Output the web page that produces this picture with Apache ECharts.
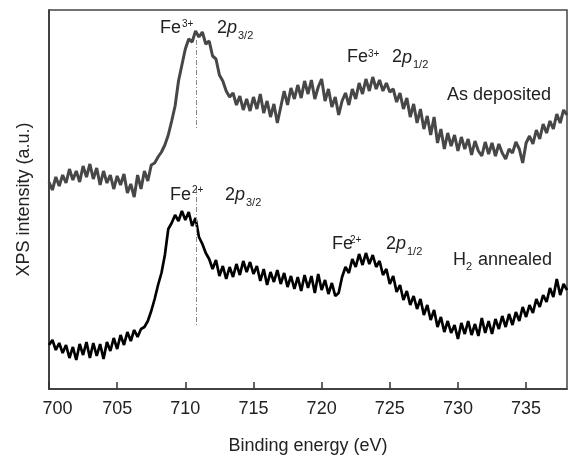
<!DOCTYPE html>
<html>
<head>
<meta charset="utf-8">
<script src="https://cdn.jsdelivr.net/npm/echarts@6/dist/echarts.min.js"></script>
<style>html,body{margin:0;padding:0;background:#fff;}#c{width:568px;height:457px;}</style>
</head>
<body>
<div id="c"></div>
<script>
// Binding energy grid (eV)
var energies = [
700,700.25,700.5,700.75, 701,701.25,701.5,701.75, 702,702.25,702.5,702.75, 703,703.25,703.5,703.75,
704,704.25,704.5,704.75, 705,705.25,705.5,705.75, 706,706.25,706.5,706.75, 707,707.25,707.5,707.75,
708,708.25,708.5,708.75, 709,709.25,709.5,709.75, 710,710.25,710.5,710.75, 711,711.25,711.5,711.75,
712,712.25,712.5,712.75, 713,713.25,713.5,713.75, 714,714.25,714.5,714.75, 715,715.25,715.5,715.75,
716,716.25,716.5,716.75, 717,717.25,717.5,717.75, 718,718.25,718.5,718.75, 719,719.25,719.5,719.75,
720,720.25,720.5,720.75, 721,721.25,721.5,721.75, 722,722.25,722.5,722.75, 723,723.25,723.5,723.75,
724,724.25,724.5,724.75, 725,725.25,725.5,725.75, 726,726.25,726.5,726.75, 727,727.25,727.5,727.75,
728,728.25,728.5,728.75, 729,729.25,729.5,729.75, 730,730.25,730.5,730.75, 731,731.25,731.5,731.75,
732,732.25,732.5,732.75, 733,733.25,733.5,733.75, 734,734.25,734.5,734.75, 735,735.25,735.5,735.75,
736,736.25,736.5,736.75, 737,737.25,737.5,737.75, 738
];
// "As deposited" intensity (a.u., offset)
var asDeposited = [
207,199,212,203, 214,206,220,209, 218,207,223,212, 225,210,221,204,
218,206,214,200, 213,204,215,196, 205,192,214,200, 218,208,224,226,
232,237,244,254, 268,283,308,324, 340,350,347,358, 352,357,345,348,
333,330,314,308, 298,292,296,284, 293,279,290,278, 292,280,295,276,
288,272,285,266, 282,298,284,301, 290,304,291,308, 295,309,290,302,
310,288,300,282, 292,274,288,296, 284,300,290,306, 295,310,298,312,
300,309,298,306, 297,300,287,296, 280,291,272,285, 266,280,260,273,
254,272,246,260, 240,256,243,254, 238,252,240,250, 234,248,238,233,
247,235,246,233, 245,236,230,240, 236,247,240,226, 246,253,245,259,
250,265,256,268, 260,275,266,279, 274
];
// "H2 annealed" intensity (a.u., offset)
var h2Annealed = [
44,49,39,46, 36,44,31,42, 29,45,34,47, 31,46,33,45,
30,47,38,51, 40,54,44,57, 48,59,52,60, 62,68,78,90,
104,116,134,160, 166,174,168,178, 169,177,163,171, 152,145,136,130,
120,129,113,123, 110,122,112,125, 114,128,117,127, 115,123,108,120,
104,117,107,119, 105,116,102,113, 100,112,98,114, 101,113,96,115,
99,109,95,106, 93,96,112,122, 116,130,122,135, 124,136,125,134,
122,128,114,120, 105,113,97,104, 89,98,84,93, 80,90,74,84,
69,79,62,72, 57,68,56,64, 50,66,55,68, 54,65,53,71,
56,68,55,70, 60,73,62,75, 64,77,68,82, 72,84,76,90,
82,94,87,101, 92,110,94,105, 99
];
// Peak reference line (Fe 2p3/2) and its extents
var peakEnergy = 710.83;
var upperLineRange = [349, 261];
var lowerLineRange = [202, 62];

var FONT = "'Liberation Sans', Arial, sans-serif";
var TXT = '#222';

function pairs(xs, ys) { var out = []; for (var i = 0; i < xs.length; i++) out.push([xs[i], ys[i]]); return out; }

function t(x, y, text, size, italic) {
  return { type: 'text', x: x, y: y, z: 100, silent: true,
    style: { text: text, fontSize: size, fontFamily: FONT, fontStyle: italic ? 'italic' : 'normal',
             fill: TXT, verticalAlign: 'middle', textVerticalAlign: 'middle', align: 'left' } };
}

var chart = echarts.init(document.getElementById('c'));
chart.setOption({
  animation: false,
  backgroundColor: '#fff',
  grid: { left: 49, right: 1, top: 10, bottom: 68, containLabel: false, outerBoundsMode: 'none',
          show: true, borderColor: '#444', borderWidth: 1.5, backgroundColor: 'transparent' },
  xAxis: {
    type: 'value', min: 700, max: 738, interval: 5,
    name: 'Binding energy (eV)', nameLocation: 'middle', nameGap: 48,
    nameTextStyle: { fontSize: 18, fontFamily: FONT, color: TXT },
    axisLine: { show: true, lineStyle: { color: '#333', width: 1.5 } },
    axisTick: { show: true, inside: true, length: 7, lineStyle: { color: '#333', width: 1.5 } },
    axisLabel: { fontSize: 18, fontFamily: FONT, color: TXT, margin: 11, showMaxLabel: false,
      formatter: function (v) { return v === 700 ? '{m|700}' : String(v); },
      rich: { m: { fontSize: 18, fontFamily: FONT, color: TXT, padding: [0, 0, 0, 17] } } },
    splitLine: { show: false }
  },
  yAxis: {
    type: 'value', min: 0, max: 379,
    name: 'XPS intensity (a.u.)', nameLocation: 'middle', nameGap: 16,
    nameTextStyle: { fontSize: 18, fontFamily: FONT, color: TXT },
    axisLine: { show: true, lineStyle: { color: '#333', width: 1.5 } },
    axisTick: { show: false }, axisLabel: { show: false }, splitLine: { show: false }
  },
  series: [
    { type: 'line', name: 'As deposited', data: pairs(energies, asDeposited), showSymbol: false,
      lineStyle: { color: '#474747', width: 3 }, itemStyle: { color: '#474747' }, z: 3,
      markLine: { silent: true, symbol: ['none', 'none'], label: { show: false },
        lineStyle: { color: '#888', width: 1, type: [5, 2, 1, 2] },
        data: [[{ coord: [peakEnergy, upperLineRange[0]] }, { coord: [peakEnergy, upperLineRange[1]] }]] } },
    { type: 'line', name: 'H2 annealed', data: pairs(energies, h2Annealed), showSymbol: false,
      lineStyle: { color: '#000', width: 2.7 }, itemStyle: { color: '#000' }, z: 3,
      markLine: { silent: true, symbol: ['none', 'none'], label: { show: false },
        lineStyle: { color: '#888', width: 1, type: [5, 2, 1, 2] },
        data: [[{ coord: [peakEnergy, lowerLineRange[0]] }, { coord: [peakEnergy, lowerLineRange[1]] }]] } }
  ],
  graphic: [
    t(160, 28, 'Fe', 18), t(182, 24.5, '3+', 10),
    t(217, 28, '2', 18), t(227, 28, 'p', 18, true), t(238, 35.5, '3/2', 11),
    t(347, 57.5, 'Fe', 18), t(368, 54, '3+', 10),
    t(392, 57.5, '2', 18), t(402, 57.5, 'p', 18, true), t(413, 64.5, '1/2', 11),
    t(447, 95.5, 'As deposited', 18),
    t(170, 195, 'Fe', 18), t(192, 190.5, '2+', 10),
    t(225, 195, '2', 18), t(235, 195, 'p', 18, true), t(246, 202.5, '3/2', 11),
    t(332, 244, 'Fe', 18), t(350, 240.5, '2+', 10),
    t(386, 244, '2', 18), t(396, 244, 'p', 18, true), t(407, 251.5, '1/2', 11),
    t(453, 260.5, 'H', 18), t(466, 267, '2', 11), t(478, 260.5, 'annealed', 18)
  ]
});
</script>
</body>
</html>
